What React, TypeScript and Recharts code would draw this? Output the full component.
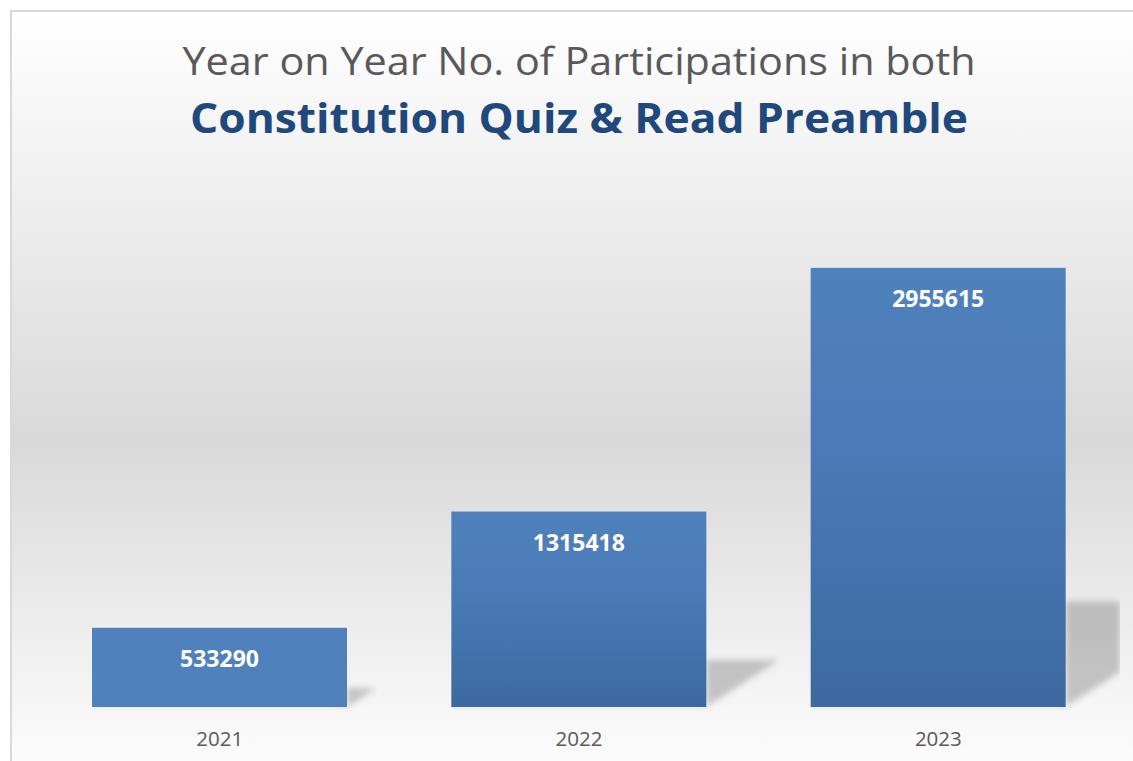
import React from "react";
import { BarChart, Bar, XAxis, YAxis, LabelList } from "recharts";

const years = ["2021", "2022", "2023"];
const participations = [533290, 1315418, 2955615];
const titleLine1 = "Year on Year No. of Participations in both";
const titleLine2 = "Constitution Quiz & Read Preamble";

const data = years.map((y, i) => ({ year: y, value: participations[i] }));

const W = 1133;
const H = 761;
const MARGIN = { top: 187, right: 15, bottom: 24, left: 40 };
const FONT = "'Open Sans', 'Noto Sans', sans-serif";
const CLIP_X = W - MARGIN.right + 2;

const BarWithShadow = (props: any) => {
  const { x, y, width, height, index } = props;
  const R = x + width;
  const B = y + height;
  const s = 0.24 * height;
  const k = 0.65;
  const tipX = R + s / k;
  let pts: string;
  if (tipX <= CLIP_X) {
    pts = `${R},${B - s} ${tipX},${B - s} ${R},${B}`;
  } else {
    const yb = B - k * (CLIP_X - R);
    pts = `${R},${B - s} ${CLIP_X},${B - s} ${CLIP_X},${yb} ${R},${B}`;
  }
  const fill = index === 0 ? "#4f81bd" : "url(#barGrad)";
  return (
    <g>
      <g clipPath="url(#shadowClip)">
        <polygon points={pts} fill="#000" fillOpacity={0.2} filter="url(#shadowBlur)" />
      </g>
      <rect x={x} y={B} width={width} height={2} fill="#000" fillOpacity={0.06} filter="url(#shadowBlur2)" />
      <rect x={x} y={y} width={width} height={height} fill={fill} />
    </g>
  );
};

const ValueLabel = (props: any) => {
  const { x, y, width, value } = props;
  return (
    <text
      x={x + width / 2}
      y={y + 30}
      textAnchor="middle"
      dominantBaseline="central"
      fill="#ffffff"
      fontFamily={FONT}
      fontWeight={700}
      fontSize={23}
    >
      {value}
    </text>
  );
};

const YearTick = (props: any) => {
  const { x, y, payload } = props;
  return (
    <text
      x={x}
      y={y}
      dy={23}
      textAnchor="middle"
      dominantBaseline="central"
      fill="#595959"
      fontFamily={FONT}
      fontSize={20.5}
    >
      {payload.value}
    </text>
  );
};

export default function App() {
  return (
    <div style={{ position: "fixed", left: 0, top: 0, width: W, height: H, overflow: "hidden", background: "#ffffff" }}>
      <div
        style={{
          position: "absolute",
          left: 10,
          top: 10,
          width: W + 20,
          height: H + 20,
          boxSizing: "border-box",
          borderLeft: "2px solid #d9d9d9",
          borderTop: "2px solid #d9d9d9",
          background: "linear-gradient(to bottom, #ffffff 0%, #fbfbfb 6%, #d9d9d9 55%, #ffffff 100%)",
        }}
      />
      <div style={{ position: "absolute", left: 0, top: 0 }}>
        <BarChart width={W} height={H} data={data} margin={MARGIN}>
          <defs>
            <linearGradient id="barGrad" x1="0" y1="0" x2="0" y2="1">
              <stop offset="0%" stopColor="#4f81bd" />
              <stop offset="40%" stopColor="#4a7bb8" />
              <stop offset="100%" stopColor="#3c69a0" />
            </linearGradient>
            <filter id="shadowBlur" x="-50%" y="-50%" width="200%" height="200%">
              <feGaussianBlur stdDeviation="3" />
            </filter>
            <filter id="shadowBlur2" x="-10%" y="-200%" width="120%" height="500%">
              <feGaussianBlur stdDeviation="1" />
            </filter>
            <clipPath id="shadowClip">
              <rect x={0} y={0} width={CLIP_X} height={H} />
            </clipPath>
          </defs>
          <XAxis dataKey="year" axisLine={false} tickLine={false} height={30} tick={<YearTick />} interval={0} />
          <YAxis hide domain={[0, 3500000]} />
          <Bar dataKey="value" barSize={255} isAnimationActive={false} shape={<BarWithShadow />}>
            <LabelList dataKey="value" content={<ValueLabel />} />
          </Bar>
        </BarChart>
      </div>
      <svg width={W} height={H} style={{ position: "absolute", left: 0, top: 0, pointerEvents: "none" }}>
        <text
          x={579}
          y={75}
          textAnchor="middle"
          fill="#595959"
          fontFamily={FONT}
          fontSize={38}
          textLength={793}
          lengthAdjust="spacingAndGlyphs"
        >
          {titleLine1}
        </text>
        <text
          x={579}
          y={133}
          textAnchor="middle"
          fill="#1f497d"
          fontFamily={FONT}
          fontWeight={700}
          fontSize={42}
          textLength={778}
          lengthAdjust="spacingAndGlyphs"
        >
          {titleLine2}
        </text>
      </svg>
    </div>
  );
}
